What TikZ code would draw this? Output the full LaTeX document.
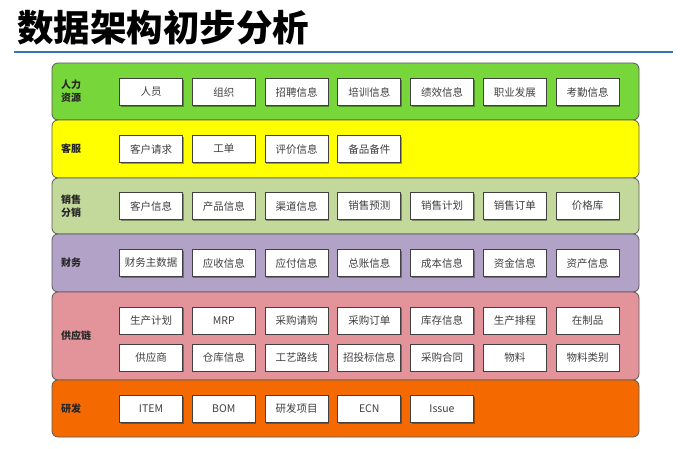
\documentclass[tikz,border=0pt]{standalone}
\usepackage{fontspec}
\setmainfont{Noto Sans CJK SC}
\newfontfamily\cjk{Noto Sans CJK SC}
\usetikzlibrary{shadows}
\definecolor{cHR}{HTML}{77D63A}
\definecolor{cKF}{HTML}{FFFF00}
\definecolor{cXS}{HTML}{C3D89B}
\definecolor{cCW}{HTML}{B3A2C8}
\definecolor{cGY}{HTML}{E3939A}
\definecolor{cYF}{HTML}{F46A00}
\definecolor{titleline}{HTML}{2E75B6}
\definecolor{txtgray}{HTML}{404040}
\begin{document}
\begin{tikzpicture}[x=1pt,y=-1pt,
  band/.style={draw=black!65,line width=0.8pt,rounded corners=6pt},
  bandlabel/.style={anchor=west,font=\cjk\bfseries\fontsize{10}{13}\selectfont,align=left,inner sep=0pt,text=black!85},
  item/.style={draw=black!75,fill=white,line width=0.7pt,minimum width=63pt,minimum height=27pt,inner sep=0pt,
    font=\cjk\fontsize{10.5}{12}\selectfont,text=txtgray,
    drop shadow={shadow xshift=1pt,shadow yshift=-1.2pt,fill=black,opacity=0.35}}]
\useasboundingbox (0,0) rectangle (680,448);
\fill[white] (0,0) rectangle (680,448);
% title
\node[anchor=west,inner sep=0pt,font=\cjk\bfseries\fontsize{36.5}{40}\selectfont] (title) at (17,28) {数据架构初步分析};
\draw[titleline,line width=2pt] (14,52) -- (673,52);
% bands
\draw[band,fill=cHR] (52,63) rectangle (639,120);
\draw[band,fill=cKF] (52,120) rectangle (639,178);
\draw[band,fill=cXS] (52,178) rectangle (639,234);
\draw[band,fill=cCW] (52,234) rectangle (639,292);
\draw[band,fill=cGY] (52,292) rectangle (639,380);
\draw[band,fill=cYF] (52,380) rectangle (639,437);
% labels
\node[bandlabel] (lHR) at (61,91.5) {人力\\资源};
\node[bandlabel] (lKF) at (61,149) {客服};
\node[bandlabel] (lXS) at (61,206) {销售\\分销};
\node[bandlabel] (lCW) at (61,263) {财务};
\node[bandlabel] (lGY) at (61,336) {供应链};
\node[bandlabel] (lYF) at (61,409) {研发};
% items
\foreach \t [count=\i] in {人员,组织,招聘信息,培训信息,绩效信息,职业发展,考勤信息}
  \node[item] (hr\i) at ({151+72.75*(\i-1)},92) {\t};
\foreach \t [count=\i] in {客户请求,工单,评价信息,备品备件}
  \node[item] (kf\i) at ({151+72.75*(\i-1)},149) {\t};
\foreach \t [count=\i] in {客户信息,产品信息,渠道信息,销售预测,销售计划,销售订单,价格库}
  \node[item] (xs\i) at ({151+72.75*(\i-1)},206) {\t};
\foreach \t [count=\i] in {财务主数据,应收信息,应付信息,总账信息,成本信息,资金信息,资产信息}
  \node[item] (cw\i) at ({151+72.75*(\i-1)},263) {\t};
\foreach \t [count=\i] in {生产计划,MRP,采购请购,采购订单,库存信息,生产排程,在制品}
  \node[item] (gya\i) at ({151+72.75*(\i-1)},320.5) {\t};
\foreach \t [count=\i] in {供应商,仓库信息,工艺路线,招投标信息,采购合同,物料,物料类别}
  \node[item] (gyb\i) at ({151+72.75*(\i-1)},357.5) {\t};
\foreach \t [count=\i] in {ITEM,BOM,研发项目,ECN,Issue}
  \node[item] (yf\i) at ({151+72.75*(\i-1)},409) {\t};
\end{tikzpicture}
\end{document}
